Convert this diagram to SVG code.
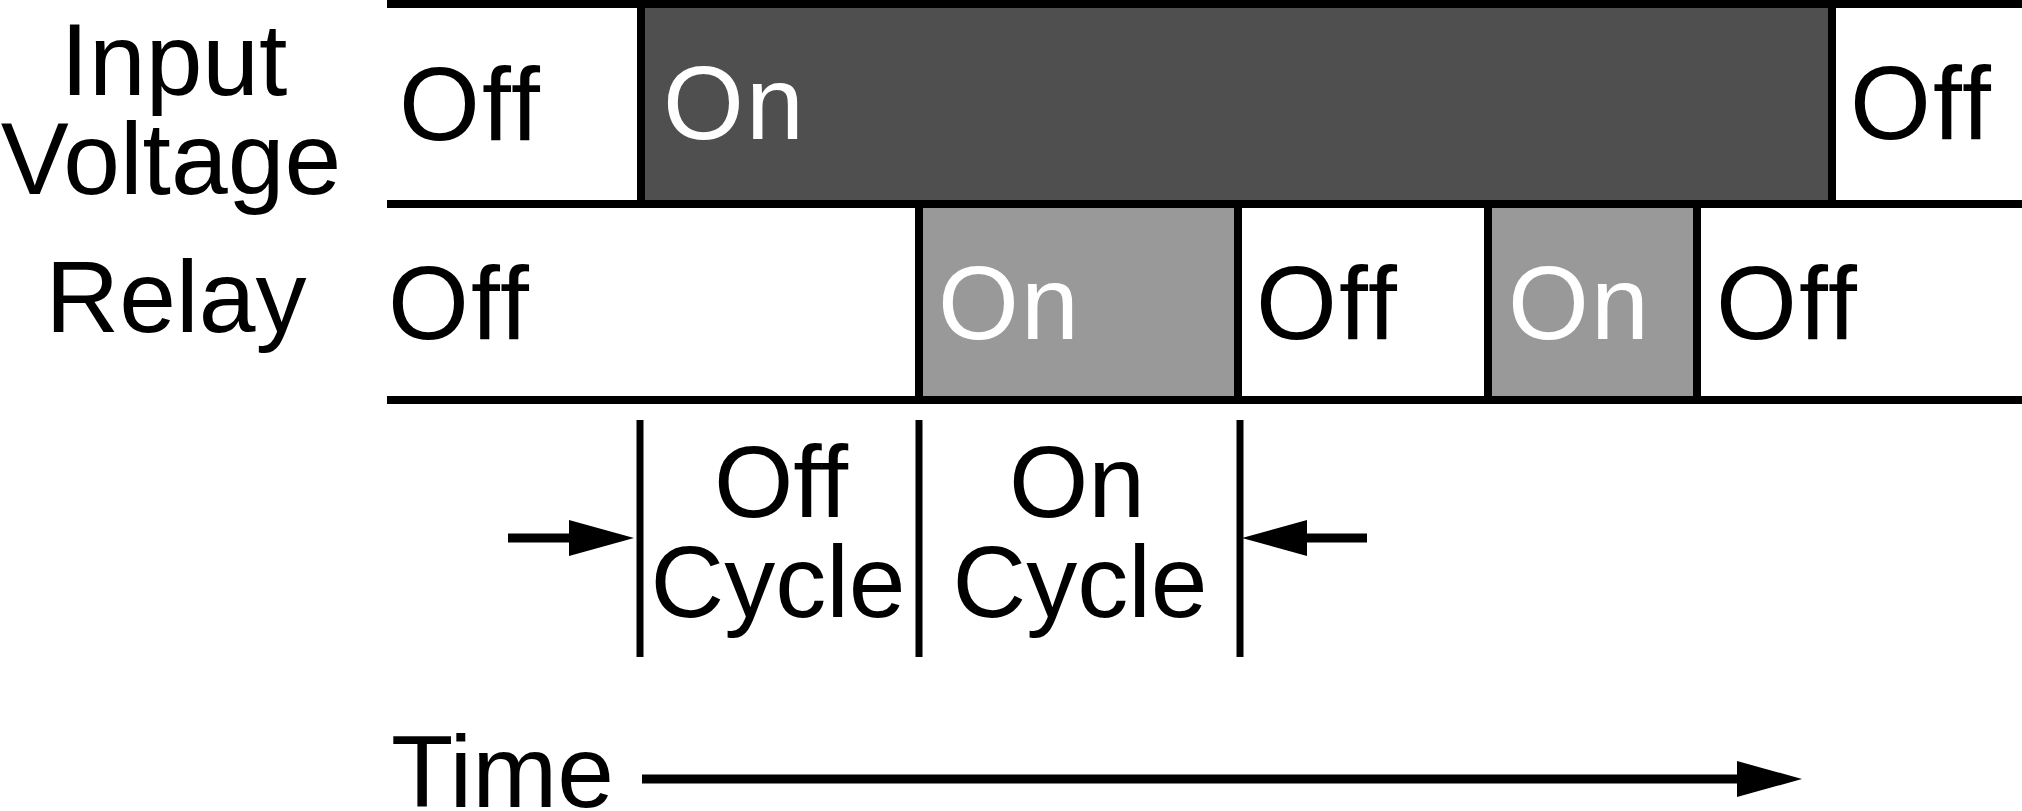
<svg xmlns="http://www.w3.org/2000/svg" width="2022" height="811" viewBox="0 0 2022 811">
<style>
.ln{stroke:#000;stroke-width:8;fill:none}
.ms{stroke:#000;stroke-width:7;fill:none}
.ar{stroke:#000;stroke-width:9;fill:none}
.t{font-family:"Liberation Sans",Arial,Helvetica,sans-serif;font-size:102px;fill:#000}
.s{font-size:104px;letter-spacing:2px}
.w{fill:#fff}
.c{text-anchor:middle}
</style>
<defs>
<marker id="ah" markerUnits="userSpaceOnUse" markerWidth="66" markerHeight="36" refX="0" refY="18" orient="auto" overflow="visible">
<path d="M0,0 L65,18 L0,36 Z" fill="#000"/>
</marker>
</defs>
<rect width="2022" height="811" fill="#fff"/>
<g id="labels">
<text class="t c" x="174" y="95">Input</text>
<text class="t c" x="171" y="194">Voltage</text>
<text class="t c" x="176" y="332">Relay</text>
<text class="t" x="391" y="807">Time</text>
</g>
<g id="input-off-1"><text class="t s" x="399" y="140">Off</text></g>
<g id="input-on">
<rect x="641" y="4" width="1191" height="200" fill="#4f4f4f"/>
<text class="t s w" x="663" y="139">On</text>
</g>
<g id="input-off-2"><text class="t s" x="1850" y="139">Off</text></g>
<g id="relay-off-1"><text class="t s" x="388" y="339">Off</text></g>
<g id="relay-on-1">
<rect x="919" y="204" width="319" height="196" fill="#999"/>
<text class="t s w" x="938" y="339">On</text>
</g>
<g id="relay-off-2"><text class="t s" x="1256" y="339">Off</text></g>
<g id="relay-on-2">
<rect x="1488" y="204" width="209" height="196" fill="#999"/>
<text class="t s w" x="1508" y="339">On</text>
</g>
<g id="relay-off-3"><text class="t s" x="1716" y="339">Off</text></g>
<g id="grid">
<line class="ln" x1="387" y1="4" x2="2022" y2="4"/>
<line class="ln" x1="387" y1="204" x2="2022" y2="204"/>
<line class="ln" x1="387" y1="400" x2="2022" y2="400"/>
<line class="ln" x1="641" y1="4" x2="641" y2="204"/>
<line class="ln" x1="1832" y1="4" x2="1832" y2="204"/>
<line class="ln" x1="919" y1="204" x2="919" y2="400"/>
<line class="ln" x1="1238" y1="204" x2="1238" y2="400"/>
<line class="ln" x1="1488" y1="204" x2="1488" y2="400"/>
<line class="ln" x1="1697" y1="204" x2="1697" y2="400"/>
</g>
<g id="off-cycle"><text class="t c" x="781" y="517">Off</text><text class="t c" x="778" y="617">Cycle</text></g>
<g id="on-cycle"><text class="t c" x="1077" y="517">On</text><text class="t c" x="1080" y="617">Cycle</text></g>
<g id="connectors">
<line class="ms" x1="640" y1="420" x2="640" y2="657"/>
<line class="ms" x1="919" y1="420" x2="919" y2="657"/>
<line class="ms" x1="1240" y1="420" x2="1240" y2="657"/>
<line class="ar" x1="508" y1="538" x2="569" y2="538" marker-end="url(#ah)"/>
<line class="ar" x1="1367" y1="538" x2="1307" y2="538" marker-end="url(#ah)"/>
<line class="ar" x1="642" y1="779" x2="1737" y2="779" marker-end="url(#ah)"/>
</g>
</svg>
